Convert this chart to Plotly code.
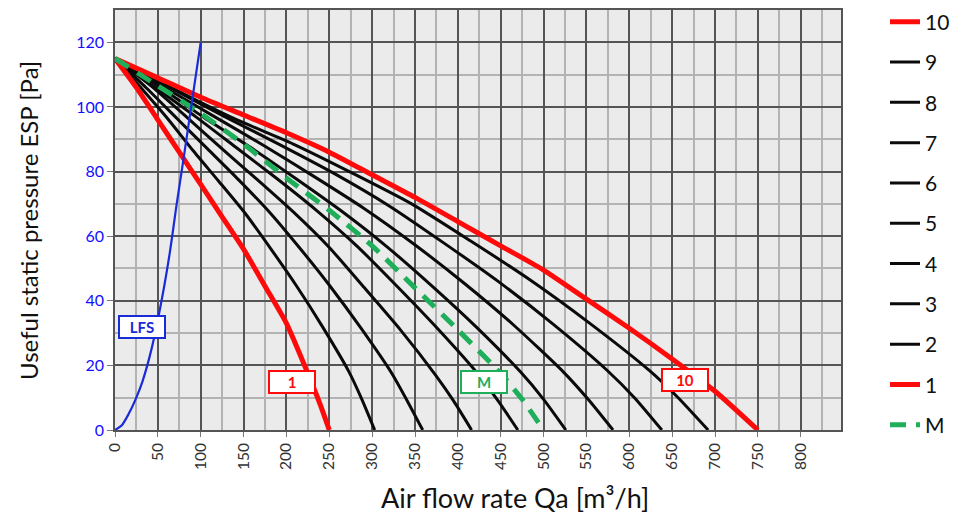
import plotly.graph_objects as go

# fan curves: air flow Qa [m3/h] vs useful static pressure ESP [Pa]
q_1 = [0, 25, 50, 75, 100, 125, 150, 175, 200, 225, 240, 250]
p_1 = [115, 106, 96, 86, 76, 66, 56, 44.5, 33, 17.5, 7.5, 0]

q_2 = [0, 30, 61, 91, 121, 152, 182, 212, 242, 273, 288, 303]
p_2 = [115, 106, 96.5, 86.5, 77, 67, 56, 44.5, 32, 18, 9.5, 0]

q_3 = [0, 36, 72, 108, 144, 180, 215, 251, 287, 323, 341, 359]
p_3 = [115, 106, 96.5, 87, 77.5, 67.5, 56.5, 44.5, 31.5, 17.5, 9, 0]

q_4 = [0, 42, 83, 125, 166, 208, 250, 291, 333, 374, 395, 416]
p_4 = [115, 106.5, 97, 87, 77.5, 67.5, 56.5, 44, 31, 17, 9, 0]

q_5 = [0, 47, 94, 141, 188, 235, 282, 329, 376, 423, 447, 470]
p_5 = [115, 106, 97, 87.5, 78, 68, 57, 44.5, 31.5, 17.5, 9, 0]

q_6 = [0, 53, 105, 158, 210, 263, 316, 368, 421, 473, 500, 526]
p_6 = [115, 106, 96.5, 87.5, 78, 68, 57, 45, 32, 18, 9.5, 0]

q_7 = [0, 58, 116, 174, 232, 291, 349, 407, 465, 523, 552, 581]
p_7 = [115, 106, 97, 88, 78.5, 68.5, 57.5, 45.5, 32.5, 18, 9.5, 0]

q_8 = [0, 64, 128, 191, 255, 319, 383, 447, 510, 574, 606, 638]
p_8 = [115, 106, 97, 88.5, 79.5, 69.5, 58, 46, 33, 18.5, 10, 0]

q_9 = [0, 69, 138, 208, 277, 346, 415, 484, 554, 623, 657, 692]
p_9 = [115, 105.5, 96.5, 88.5, 79.5, 70, 58.5, 46.5, 33, 18.5, 10, 0]

q_10 = [0, 50, 100, 150, 200, 250, 300, 350, 400, 450, 500, 550, 600, 650, 700, 750]
p_10 = [115, 109, 103, 97.5, 92, 86, 79, 72, 64.5, 57, 49.5, 40.5, 31.5, 22, 12, 0]

q_m = [0, 50, 100, 150, 200, 250, 300, 350, 400, 450, 475, 500]
p_m = [115, 106.5, 98, 88.5, 78, 68, 57, 44, 31, 17.5, 9.5, 0]

q_lfs = [0, 8, 16, 24, 32, 43, 55, 64, 72, 80, 90, 100]
p_lfs = [0, 1.5, 5, 9.5, 15, 25.5, 41, 55, 70, 84, 102, 120]

x_ticks = list(range(0, 801, 50))
y_ticks = list(range(0, 121, 20))

RED = "#ff0a0a"
BLACK = "#0a0a0a"
GREEN = "#1fae5a"
BLUE = "#1a2bd8"
FONT = "Lato"

fig = go.Figure()

black_curves = [
    ("2", q_2, p_2), ("3", q_3, p_3), ("4", q_4, p_4), ("5", q_5, p_5),
    ("6", q_6, p_6), ("7", q_7, p_7), ("8", q_8, p_8), ("9", q_9, p_9),
]
for name, q, p in black_curves:
    fig.add_trace(go.Scatter(
        x=q, y=p, mode="lines", name=name, legendgroup=name,
        legendrank=11 - int(name),
        line=dict(color=BLACK, width=3, shape="spline", smoothing=0.6),
    ))

for name, q, p in [("1", q_1, p_1), ("10", q_10, p_10)]:
    fig.add_trace(go.Scatter(
        x=q, y=p, mode="lines", name=name, legendgroup=name,
        legendrank=11 - int(name),
        line=dict(color=RED, width=5, shape="spline", smoothing=0.6),
    ))

fig.add_trace(go.Scatter(
    x=q_m, y=p_m, mode="lines", name="M", legendgroup="M", legendrank=11,
    line=dict(color=GREEN, width=5, dash="16px,10px", shape="spline", smoothing=0.6),
))

fig.add_trace(go.Scatter(
    x=q_lfs, y=p_lfs, mode="lines", name="LFS", showlegend=False,
    line=dict(color=BLUE, width=2.2, shape="spline", smoothing=0.8),
))

# boxed curve labels
box_labels = [("LFS", 31, 32, BLUE), ("1", 206.5, 15, RED), ("M", 430.5, 15, GREEN), ("10", 665.5, 15.5, RED)]
for text, x, y, color in box_labels:
    fig.add_annotation(
        x=x, y=y, text=f"<b>{text}</b>", showarrow=False,
        font=dict(family=FONT, size=15, color=color),
        bgcolor="white", bordercolor=color, borderwidth=2, borderpad=1,
        width=42, height=18,
    )

fig.add_annotation(
    x=0.551, y=-0.16, xref="paper", yref="paper", showarrow=False,
    text="Air flow rate Qa [m³/h]", xanchor="center", yanchor="middle",
    font=dict(family=FONT, size=27, color="#111"),
)
fig.add_annotation(
    x=-0.12, y=0.5, xref="paper", yref="paper", showarrow=False,
    text="Useful static pressure ESP [Pa]", textangle=-90,
    xanchor="center", yanchor="middle",
    font=dict(family=FONT, size=24, color="#111"),
)

fig.update_xaxes(
    range=[0, 847], tickvals=x_ticks, tickangle=-90,
    showgrid=True, gridcolor="#555555", gridwidth=1.6,
    minor=dict(dtick=25, tick0=0, showgrid=True, gridcolor="#b3b3b3", gridwidth=1.5),
    ticks="outside", ticklen=5, tickcolor="#777",
    tickfont=dict(family=FONT, size=15.5, color="#333"),
    showline=True, linecolor="#555555", linewidth=1.6, mirror=True, zeroline=False,
)
fig.update_yaxes(
    range=[0, 130], tickvals=y_ticks,
    showgrid=True, gridcolor="#555555", gridwidth=1.6,
    minor=dict(dtick=10, tick0=0, showgrid=True, gridcolor="#b3b3b3", gridwidth=1.5),
    ticks="outside", ticklen=6, tickcolor="#777",
    tickfont=dict(family=FONT, size=16, color="#1010ff"),
    showline=True, linecolor="#555555", linewidth=1.6, mirror=True, zeroline=False,
)

fig.update_layout(
    width=970, height=519,
    margin=dict(l=115, r=129, t=10, b=89, autoexpand=False),
    paper_bgcolor="white", plot_bgcolor="#ebebeb",
    font=dict(family=FONT),
    legend=dict(
        x=1.0606, xanchor="left", y=1.02, yanchor="top",
        font=dict(family=FONT, size=21, color="#111"),
        tracegroupgap=10, bgcolor="rgba(0,0,0,0)", maxheight=500,
    ),
)

# drop the page's default body margin so the figure sits at the window corner
fig.write_html(
    "out.html",
    config={"displayModeBar": False},
    post_script="document.body.style.margin = '0px';",
)
